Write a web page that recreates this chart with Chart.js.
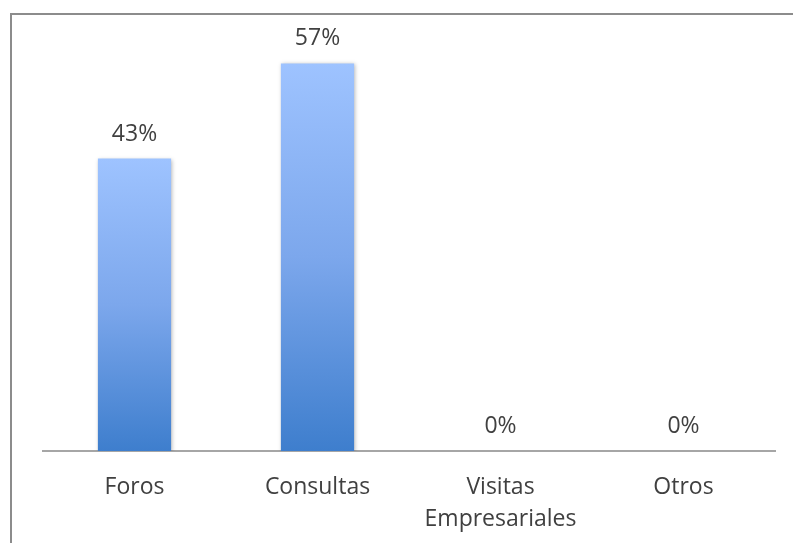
<!DOCTYPE html>
<html>
<head>
<meta charset="utf-8">
<script src="https://cdn.jsdelivr.net/npm/chart.js@4.4.1/dist/chart.umd.min.js"></script>
<style>
  html, body { margin: 0; padding: 0; background: #ffffff; }
  #wrap { position: relative; width: 793px; height: 543px; }
</style>
</head>
<body>
<div id="wrap"><canvas id="activityChart" width="793" height="543"></canvas></div>
<script>
// Participation by activity type (percent)
const categories = ['Foros', 'Consultas', ['Visitas', 'Empresariales'], 'Otros'];
const percentages = [43, 57, 0, 0];
const valueLabels = ['43%', '57%', '0%', '0%'];

const textColor = '#404040';
const fontFamily = '"Open Sans", "Noto Sans", sans-serif';

// Each bar fades from light blue at its top down to a deeper blue at the base
function barGradient(context) {
    const chart = context.chart;
    const area = chart.chartArea;
    if (!area) {
        return '#6f9ee6';
    }
    const value = context.parsed ? context.parsed.y : percentages[context.dataIndex];
    const top = chart.scales.y.getPixelForValue(value);
    if (!(area.bottom - top > 1)) {
        return '#6f9ee6';
    }
    const g = chart.ctx.createLinearGradient(0, top, 0, area.bottom);
    g.addColorStop(0, '#9ec3ff');
    g.addColorStop(0.5, '#7ca7ec');
    g.addColorStop(1, '#3e7ecd');
    return g;
}

// --------------------------------
// Frame, bar shadow and value labels
// --------------------------------
const decorations = {
    id: 'decorations',
    beforeDraw(chart) {
        const ctx = chart.ctx;
        ctx.save();
        ctx.strokeStyle = '#8c8c8c';
        ctx.lineWidth = 2;
        ctx.beginPath();
        ctx.moveTo(11, chart.height);
        ctx.lineTo(11, 14);
        ctx.lineTo(chart.width, 14);
        ctx.stroke();
        ctx.restore();
    },
    beforeDatasetsDraw(chart) {
        const ctx = chart.ctx;
        ctx.save();
        ctx.shadowColor = 'rgba(0, 0, 0, 0.28)';
        ctx.shadowBlur = 4;
        ctx.shadowOffsetX = 1;
        ctx.shadowOffsetY = 1;
    },
    afterDatasetsDraw(chart) {
        const ctx = chart.ctx;
        ctx.restore();
        const meta = chart.getDatasetMeta(0);
        ctx.save();
        ctx.fillStyle = textColor;
        ctx.font = '23px ' + fontFamily;
        ctx.textAlign = 'center';
        ctx.textBaseline = 'alphabetic';
        meta.data.forEach(function (bar, i) {
            ctx.fillText(valueLabels[i], bar.x, bar.y - 18);
        });
        ctx.restore();
    }
};

const ctx = document.getElementById('activityChart').getContext('2d');
const activityChart = new Chart(ctx, {
    type: 'bar',
    data: {
        labels: categories,
        datasets: [{
            data: percentages,
            backgroundColor: barGradient,
            borderWidth: 0,
            barPercentage: 0.4,
            categoryPercentage: 1.0
        }]
    },
    options: {
        responsive: false,
        animation: false,
        events: [],
        layout: {
            padding: { left: 43, right: 18, top: 43, bottom: 0 }
        },
        plugins: {
            legend: { display: false },
            tooltip: { enabled: false }
        },
        scales: {
            y: {
                display: false,
                min: 0,
                max: 60
            },
            x: {
                grid: { display: false, drawTicks: false },
                border: { display: true, color: '#a6a6a6', width: 2 },
                ticks: {
                    color: textColor,
                    padding: 21,
                    maxRotation: 0,
                    autoSkip: false,
                    font: { family: fontFamily, size: 23, lineHeight: 1.38 }
                },
                // keep the axis line at a fixed height above the bottom edge
                afterFit(scale) {
                    scale.height = 92;
                }
            }
        }
    },
    plugins: [decorations]
});
</script>
</body>
</html>
